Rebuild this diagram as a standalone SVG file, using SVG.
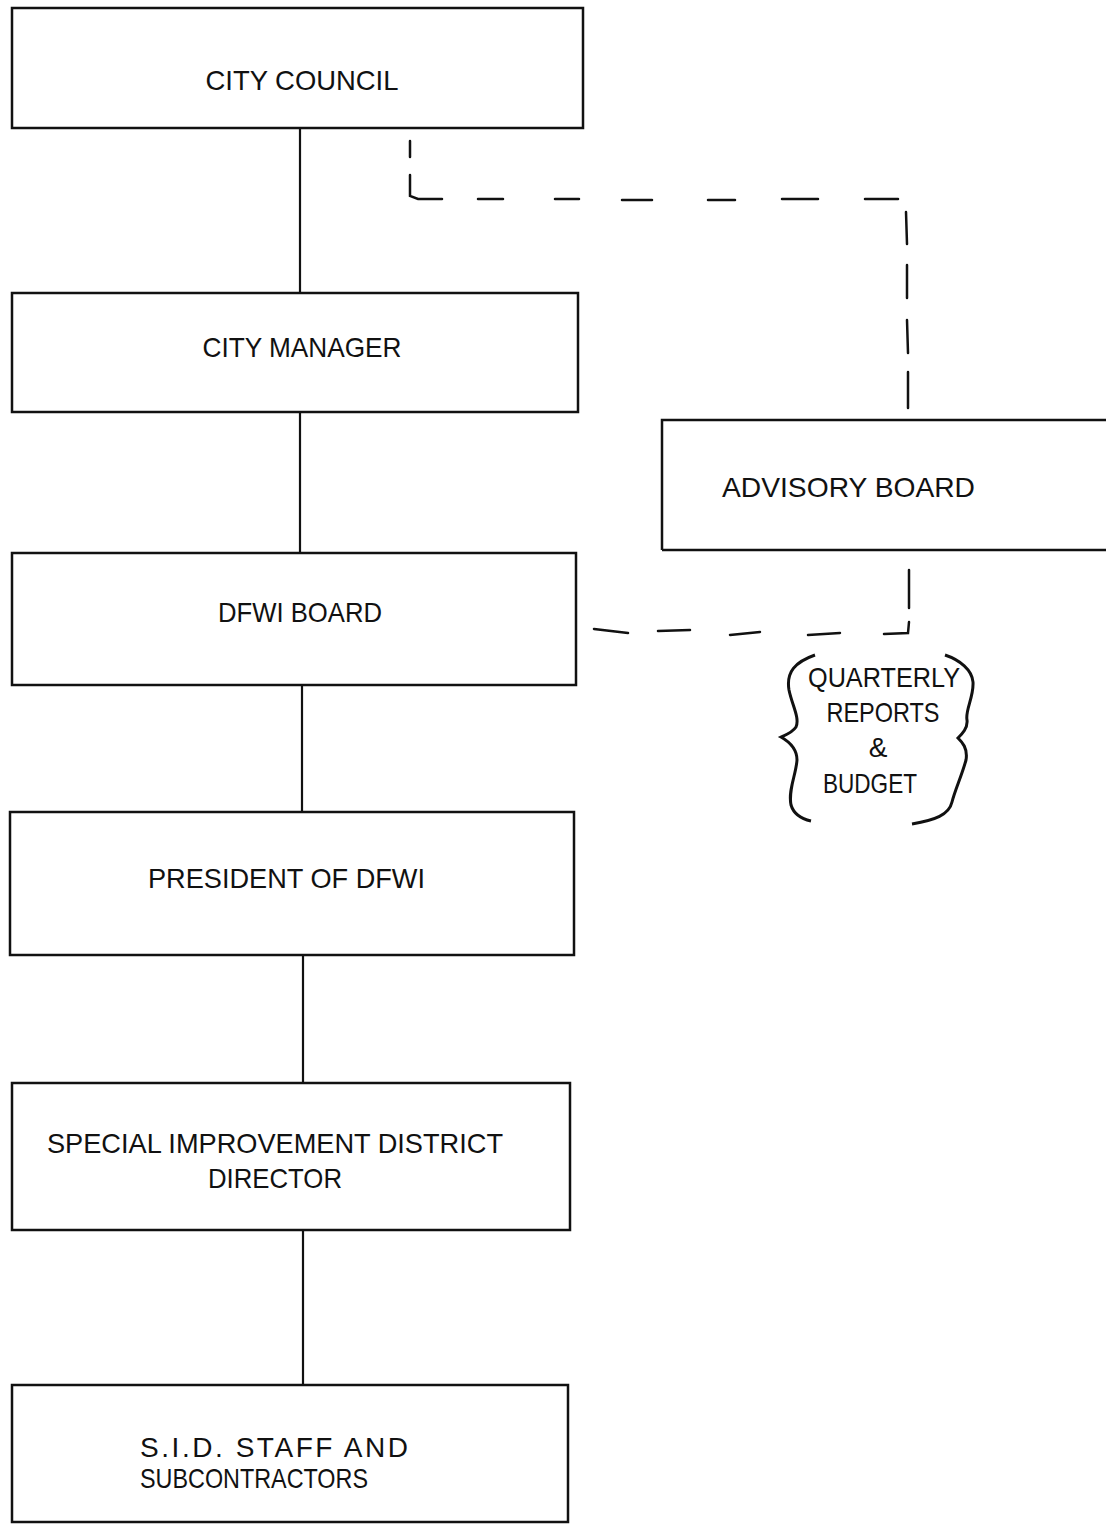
<svg xmlns="http://www.w3.org/2000/svg" width="1106" height="1524" viewBox="0 0 1106 1524">
<style>
.box{fill:none;stroke:#111;stroke-width:2.5}
.conn{fill:none;stroke:#111;stroke-width:2.2}
.dash{fill:none;stroke:#111;stroke-width:2.5;stroke-linecap:round}
.brace{fill:none;stroke:#111;stroke-width:3}
text{font-family:"Liberation Sans",Arial,sans-serif;font-size:28px;fill:#111}
</style>
<rect width="1106" height="1524" fill="#fff"/>
<g id="connectors">
<line class="conn" x1="300" y1="128" x2="300" y2="293"/>
<line class="conn" x1="300" y1="412" x2="300" y2="553" stroke-width="1.5"/>
<line class="conn" x1="302" y1="685" x2="302" y2="812"/>
<line class="conn" x1="303" y1="955" x2="303" y2="1083"/>
<line class="conn" x1="303" y1="1230" x2="303" y2="1385"/>
<path class="dash" d="M410 141 V157 M410 175 V196 L418 199 H442 M478 199 H503 M555 199 H579 M622 200 H652 M708 200 H735 M782 199 H818 M865 199 H898"/>
<path class="dash" d="M906 212 L907 244 M907 265 L907 298 M907 320 L908 353 M908 372 L908 408"/>
<path class="dash" d="M909 570 L909 608 M909 622 L908 633 L884 634 M840 633 L808 635 M760 632 L730 635 M690 630 L658 631 M628 633 L594 629"/>
</g>
<g id="city-council">
<rect class="box" x="12" y="8" width="571" height="120"/>
<text x="302" y="90" text-anchor="middle" textLength="193" lengthAdjust="spacingAndGlyphs">CITY COUNCIL</text>
</g>
<g id="city-manager">
<rect class="box" x="12" y="293" width="566" height="119"/>
<text x="302" y="357" text-anchor="middle" textLength="199" lengthAdjust="spacingAndGlyphs">CITY MANAGER</text>
</g>
<g id="advisory-board">
<path class="box" d="M662 550 V420 H1106 M662 550 H1106"/>
<text x="722" y="497" textLength="253" lengthAdjust="spacingAndGlyphs">ADVISORY BOARD</text>
</g>
<g id="dfwi-board">
<rect class="box" x="12" y="553" width="564" height="132"/>
<text x="218" y="622" textLength="164" lengthAdjust="spacingAndGlyphs">DFWI BOARD</text>
</g>
<g id="quarterly-reports">
<path class="brace" d="M815 655 C795 662 786 672 789 690 C792 705 800 718 796 727 C792 733 785 735 781 737 C788 741 797 748 797 760 C796 775 788 790 791 805 C794 815 802 819 811 821"/>
<path class="brace" d="M945 655 C960 660 972 670 973 682 C974 697 965 710 967 720 C968 728 962 734 958 738 C962 742 968 748 966 760 C962 775 955 790 952 802 C949 815 935 820 912 824"/>
<text x="884" y="687" text-anchor="middle" textLength="152" lengthAdjust="spacingAndGlyphs" font-size="26">QUARTERLY</text>
<text x="883" y="722" text-anchor="middle" textLength="113" lengthAdjust="spacingAndGlyphs" font-size="26">REPORTS</text>
<text x="878" y="757" text-anchor="middle" font-size="24">&amp;</text>
<text x="870" y="793" text-anchor="middle" textLength="94" lengthAdjust="spacingAndGlyphs" font-size="26">BUDGET</text>
</g>
<g id="president">
<rect class="box" x="10" y="812" width="564" height="143"/>
<text x="148" y="888" textLength="277" lengthAdjust="spacingAndGlyphs">PRESIDENT OF DFWI</text>
</g>
<g id="sid-director">
<rect class="box" x="12" y="1083" width="558" height="147"/>
<text x="47" y="1153" textLength="456" lengthAdjust="spacingAndGlyphs">SPECIAL IMPROVEMENT DISTRICT</text>
<text x="208" y="1188" textLength="134" lengthAdjust="spacingAndGlyphs">DIRECTOR</text>
</g>
<g id="sid-staff">
<rect class="box" x="12" y="1385" width="556" height="137"/>
<text x="140" y="1457" textLength="268" lengthAdjust="spacing" font-size="27">S.I.D. STAFF AND</text>
<text x="140" y="1488" textLength="228" lengthAdjust="spacingAndGlyphs" font-size="27">SUBCONTRACTORS</text>
</g>
</svg>
